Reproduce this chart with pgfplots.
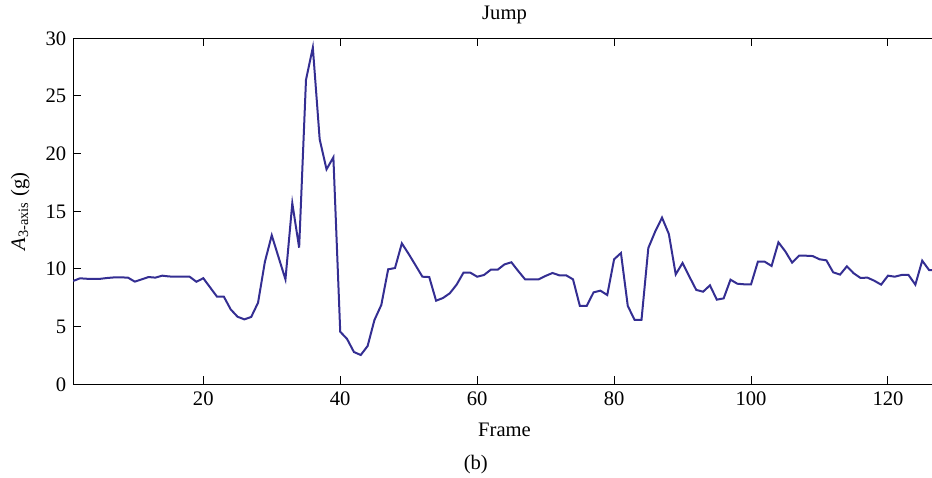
\documentclass[border=0pt]{standalone}
\usepackage{fontspec}
\setmainfont{Liberation Serif}
\usepackage{pgfplots}
\pgfplotsset{compat=1.18}
\usepackage{pgfplotstable}
\definecolor{linecol}{RGB}{52,46,146}
\pgfplotstableread{
x y
1 8.96
2 9.19
3 9.15
4 9.15
5 9.15
6 9.22
7 9.27
8 9.27
9 9.25
10 8.9
11 9.1
12 9.3
13 9.25
14 9.42
15 9.35
16 9.33
17 9.33
18 9.33
19 8.89
20 9.2
21 8.4
22 7.6
23 7.6
24 6.5
25 5.86
26 5.63
27 5.84
28 7.08
29 10.63
30 12.92
31 11.0
32 9.1
33 15.7
34 11.85
35 26.4
36 29.2
37 21.24
38 18.64
39 19.68
40 4.56
41 3.93
42 2.8
43 2.54
44 3.32
45 5.58
46 6.88
47 9.97
48 10.08
49 12.22
50 11.3
51 10.32
52 9.33
53 9.3
54 7.25
55 7.48
56 7.89
57 8.64
58 9.68
59 9.68
60 9.33
61 9.48
62 9.94
63 9.94
64 10.4
65 10.58
66 9.82
67 9.1
68 9.1
69 9.1
70 9.4
71 9.65
72 9.45
73 9.45
74 9.1
75 6.79
76 6.79
77 7.97
78 8.12
79 7.74
80 10.84
81 11.38
82 6.79
83 5.58
84 5.58
85 11.82
86 13.24
87 14.45
88 13.03
89 9.53
90 10.52
91 9.33
92 8.18
93 8.03
94 8.58
95 7.34
96 7.45
97 9.07
98 8.72
99 8.67
100 8.67
101 10.63
102 10.63
103 10.26
104 12.31
105 11.53
106 10.55
107 11.15
108 11.15
109 11.12
110 10.84
111 10.75
112 9.71
113 9.51
114 10.23
115 9.62
116 9.22
117 9.25
118 8.98
119 8.64
120 9.42
121 9.33
122 9.48
123 9.48
124 8.64
125 10.72
126 9.91
127 9.9
}\jumpdata
\begin{document}
\begin{tikzpicture}
\begin{axis}[
  at={(0,0)}, anchor=south west,
  scale only axis,
  width=431.35pt, height=173pt,
  xmin=1, xmax=127, ymin=0, ymax=30,
  axis y line*=left,
  xtick={20,40,60,80,100,120},
  ytick={0,5,10,15,20,25,30},
  tick align=inside,
  major tick length=4pt,
  xtick pos=both,
  axis line style={line width=0.5pt},
  tick style={line width=0.5pt, black},
  /pgf/number format/assume math mode=true,
  tick label style={font=\fontsize{10.3}{12}\selectfont},
  label style={font=\fontsize{10.3}{12}\selectfont},
  title style={font=\fontsize{10.3}{12}\selectfont, yshift=-2.2pt},
  title={Jump},
  xlabel={Frame},
  ylabel={{\itshape A}\textsubscript{3-axis} (g)},
  xlabel style={at={(axis description cs:0.5,-0.132)}, anchor=center},
  ylabel style={at={(axis description cs:-0.0614,0.5)}, anchor=center},
  clip mode=individual,
]
\addplot[linecol, line width=1pt] table[x=x,y=y] {\jumpdata};
\node[font=\fontsize{10.3}{12}\selectfont] at (axis cs:59.8,0) [yshift=-40.35pt] {(b)};
\end{axis}
\pgfresetboundingbox
\useasboundingbox (-36.6pt,-46.35pt) rectangle (429.4pt,192.15pt);
\end{tikzpicture}
\end{document}
